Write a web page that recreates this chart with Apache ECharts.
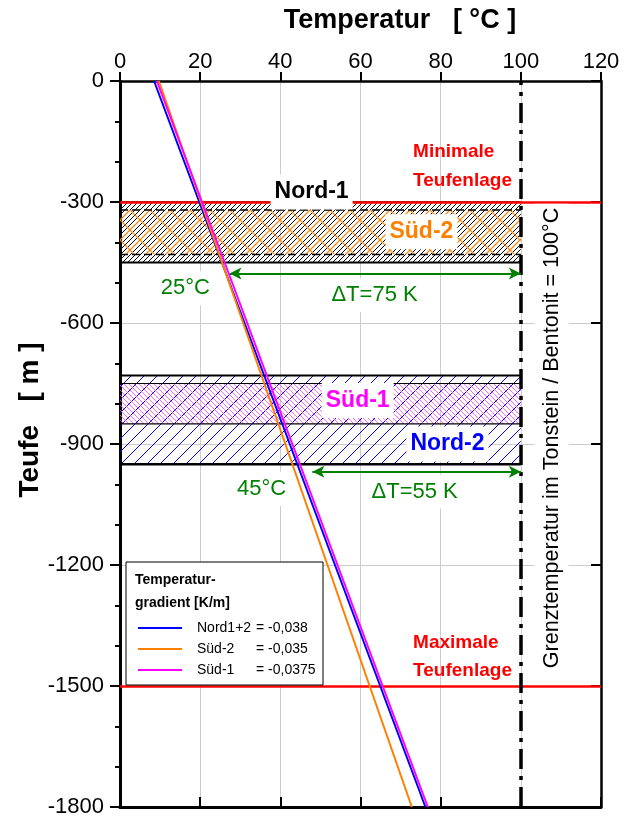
<!DOCTYPE html>
<html><head><meta charset="utf-8">
<script src="https://cdn.jsdelivr.net/npm/echarts@6/dist/echarts.min.js"></script>
<style>html,body{margin:0;padding:0;background:#fff}#c{width:626px;height:818px}</style>
</head><body><div id="c"></div>
<script>
// ---------- data ----------
const tempTicks = [0, 20, 40, 60, 80, 100, 120];
const depthTicks = [0, -300, -600, -900, -1200, -1500, -1800];
const gradientNames = ['Nord1+2', 'Süd-2', 'Süd-1'];
const gradientLabels = ['= -0,038', '= -0,035', '= -0,0375'];
const surfaceTemps = [8.5, 9.7, 9.2];      // °C at 0 m
const bottomTemps = [76.2, 72.8, 76.8];    // °C at -1800 m
const lineDepths = [0, -1800];
const bandNames = ['Nord-1', 'Süd-2', 'Nord-2', 'Süd-1'];
const bandTop = [-300, -320, -730, -750];
const bandBottom = [-450, -430, -950, -850];
const bandTempRange = [0, 100];
const limitDepths = [-300, -1500];
const limitTemp = 100;
const arrowDepths = [-477, -969];
const arrowStartTemps = [27.3, 48.0];
const arrowTempLabels = ['25°C', '45°C'];
const deltaLabels = ['\u0394T=75 K', '\u0394T=55 K'];

// ---------- styles ----------
const FONT = '"Liberation Sans", Arial, sans-serif';
const lineColors = ['#0000ff', '#ff8000', '#ff00ff'];
const GREEN = '#008000', RED = '#ff0000';

function hatch(size, color, lw, dirs) {
  const c = document.createElement('canvas');
  c.width = c.height = size;
  const g = c.getContext('2d');
  g.strokeStyle = color; g.lineWidth = lw;
  g.beginPath();
  for (let k = -1; k <= 1; k++) {
    if (dirs.indexOf('/') >= 0) { g.moveTo(k * size, size); g.lineTo(k * size + size, 0); }
    if (dirs.indexOf('\\') >= 0) { g.moveTo(k * size, 0); g.lineTo(k * size + size, size); }
  }
  g.stroke();
  return { image: c, repeat: 'repeat' };
}
const bandStyles = [
  { fill: hatch(5, '#000000', 1, '/'), edge: [{ w: 1.5, dash: null }, { w: 2, dash: null }] },
  { fill: hatch(20, '#ff8000', 1.2, '/\\'), edge: [{ w: 1.5, dash: [8, 4] }, { w: 1.5, dash: [8, 4] }] },
  { fill: hatch(13, '#0000ff', 1, '/'), edge: [{ w: 2, dash: null }, { w: 2.5, dash: null }] },
  { fill: hatch(5, '#ff40ff', 0.8, '\\'), edge: [{ w: 1.2, dash: null }, { w: 1.2, dash: null }] }
];

const bandData = bandNames.map((n, i) => [bandTop[i], bandBottom[i], i]);

const lineSeries = gradientNames.map((name, i) => ({
  name: name, type: 'line', z: 5, silent: true, symbol: 'none',
  lineStyle: { color: lineColors[i], width: 2 }, itemStyle: { color: lineColors[i] },
  data: [[surfaceTemps[i], lineDepths[0]], [bottomTemps[i], lineDepths[1]]]
}));

// annotations (data coords)
const annotations = [
  { text: bandNames[0], at: [47.8, -275], color: '#000', font: 23, bold: true },
  { text: bandNames[1], at: [75.2, -374], color: '#ff8000', font: 23, bold: true },
  { text: bandNames[3], at: [59.3, -792], color: '#ff00ff', font: 23, bold: true },
  { text: bandNames[2], at: [81.7, -900], color: '#0000ff', font: 23, bold: true },
  { text: arrowTempLabels[0], at: [16.3, -514], color: GREEN, font: 22 },
  { text: deltaLabels[0], at: [63.5, -531], color: GREEN, font: 22 },
  { text: arrowTempLabels[1], at: [35.3, -1011], color: GREEN, font: 22 },
  { text: deltaLabels[1], at: [73.5, -1018], color: GREEN, font: 22 },
  { text: 'Minimale', at: [73.0, -175], color: RED, font: 19, bold: true, left: true, nobg: true },
  { text: 'Teufenlage', at: [73.0, -248], color: RED, font: 19, bold: true, left: true, nobg: true },
  { text: 'Maximale', at: [73.0, -1394], color: RED, font: 19, bold: true, left: true, nobg: true },
  { text: 'Teufenlage', at: [73.0, -1461], color: RED, font: 19, bold: true, left: true, nobg: true },
  { text: 'Grenztemperatur im Tonstein / Bentonit = 100°C', at: [107.7, -885], color: '#000', font: 21.6, rotate: 90 }
];

const chart = echarts.init(document.getElementById('c'), null, { renderer: 'canvas' });
const option = {
  animation: false,
  textStyle: { fontFamily: FONT },
  grid: { left: 120, right: 25, top: 81, bottom: 5 },
  xAxis: [
    { type: 'value', position: 'top', min: tempTicks[0], max: tempTicks[tempTicks.length - 1], interval: 20,
      axisLine: { show: true, onZero: false, lineStyle: { color: '#000', width: 2.5 } },
      axisTick: { show: true, inside: false, length: 9, lineStyle: { color: '#000', width: 2 } },
      axisLabel: { fontSize: 22, color: '#000', margin: 8, fontFamily: FONT, formatter: v => String(v) },
      splitLine: { show: true, lineStyle: { color: '#cccccc', width: 1 } } },
    { type: 'value', position: 'bottom', min: tempTicks[0], max: tempTicks[tempTicks.length - 1], interval: 20,
      axisLine: { show: true, onZero: false, lineStyle: { color: '#000', width: 3 } },
      axisTick: { show: true, inside: true, length: 10, lineStyle: { color: '#000', width: 2 } },
      axisLabel: { show: false }, splitLine: { show: false } }
  ],
  yAxis: [
    { type: 'value', position: 'left', min: depthTicks[depthTicks.length - 1], max: depthTicks[0], interval: 300,
      axisLine: { show: true, onZero: false, lineStyle: { color: '#000', width: 3 } },
      axisTick: { show: true, inside: false, length: 10, lineStyle: { color: '#000', width: 2 } },
      minorTick: { show: true, splitNumber: 3, length: 5, lineStyle: { color: '#000', width: 2 } },
      axisLabel: { fontSize: 22, color: '#000', margin: 16, fontFamily: FONT, formatter: v => String(v) },
      splitLine: { show: true, lineStyle: { color: '#cccccc', width: 1 } } },
    { type: 'value', position: 'right', min: depthTicks[depthTicks.length - 1], max: depthTicks[0], interval: 300,
      axisLine: { show: true, onZero: false, lineStyle: { color: '#000', width: 2.5 } },
      axisTick: { show: true, inside: true, length: 10, lineStyle: { color: '#000', width: 2 } },
      axisLabel: { show: false }, splitLine: { show: false } }
  ],
  legend: {
    data: gradientNames, orient: 'vertical', left: 133, top: 616, itemWidth: 44, itemHeight: 2,
    icon: 'rect', itemGap: 7, selectedMode: false, z: 10,
    textStyle: { fontSize: 14, color: '#000', fontFamily: FONT,
      rich: { n: { fontSize: 14, width: 59, padding: [0, 0, 0, 10], fontFamily: FONT, lineHeight: 16 },
              v: { fontSize: 14, fontFamily: FONT, lineHeight: 16 } } },
    formatter: function (name) { return '{n|' + name + '}{v|' + gradientLabels[gradientNames.indexOf(name)] + '}'; }
  },
  graphic: [
    { type: 'text', x: 400, y: 21, z: 10, style: { text: 'Temperatur   [ °C ]', font: 'bold 27px ' + FONT, fill: '#000', align: 'center', verticalAlign: 'middle', textAlign: 'center', textVerticalAlign: 'middle' } },
    { type: 'text', x: 30, y: 420, rotation: Math.PI / 2, z: 10, style: { text: 'Teufe   [ m ]', font: 'bold 28px ' + FONT, fill: '#000', align: 'center', verticalAlign: 'middle', textAlign: 'center', textVerticalAlign: 'middle' } },
    { type: 'rect', z: 8, shape: { x: 126, y: 562, width: 197, height: 123 }, style: { fill: '#fff', stroke: '#000', lineWidth: 1 } },
    { type: 'text', x: 135, y: 580, z: 9, style: { text: 'Temperatur-', font: 'bold 14px ' + FONT, fill: '#000', verticalAlign: 'middle', textVerticalAlign: 'middle' } },
    { type: 'text', x: 135, y: 603, z: 9, style: { text: 'gradient [K/m]', font: 'bold 14px ' + FONT, fill: '#000', verticalAlign: 'middle', textVerticalAlign: 'middle' } }
  ],
  series: [
    { type: 'custom', name: 'bands', z: 2, silent: true, data: bandData,
      renderItem: function (params, api) {
        const i = api.value(2);
        const p1 = api.coord([bandTempRange[0], api.value(0)]);
        const p2 = api.coord([bandTempRange[1], api.value(1)]);
        const st = bandStyles[i];
        const ch = [{ type: 'rect', shape: { x: p1[0], y: p1[1], width: p2[0] - p1[0], height: p2[1] - p1[1] }, style: { fill: st.fill } }];
        [p1[1], p2[1]].forEach(function (y, k) {
          ch.push({ type: 'line', shape: { x1: p1[0], y1: y, x2: p2[0], y2: y },
            style: { stroke: '#000', lineWidth: st.edge[k].w, lineDash: st.edge[k].dash } });
        });
        return { type: 'group', children: ch };
      } }
  ].concat(lineSeries).concat([
    { type: 'line', name: 'limits', data: [], z: 4, silent: true,
      markLine: { silent: true, symbol: 'none', animation: false, label: { show: false },
        data: limitDepths.map(d => ({ yAxis: d, lineStyle: { color: RED, width: 2.5, type: 'solid' } }))
          .concat([{ xAxis: limitTemp, lineStyle: { color: '#000', width: 3.5, type: [20, 7, 4, 7] } }]) } },
    { type: 'line', name: 'arrows', data: [], z: 6, silent: true,
      markLine: { silent: true, symbol: ['arrow', 'arrow'], symbolSize: [9, 12], animation: false, label: { show: false },
        lineStyle: { color: GREEN, width: 2, type: 'solid' },
        data: arrowDepths.map((d, i) => [{ coord: [arrowStartTemps[i], d] }, { coord: [limitTemp, d] }]) } },
    { type: 'scatter', name: 'annot', z: 9, silent: true, symbolSize: 1, itemStyle: { color: 'rgba(0,0,0,0)', opacity: 1 },
      data: annotations.map(a => ({
        value: a.at,
        label: { show: true, formatter: a.text, position: a.left ? 'right' : 'inside', distance: 0, opacity: 1,
          rotate: a.rotate || 0, color: a.color, fontSize: a.font, fontWeight: a.bold ? 'bold' : 'normal',
          fontFamily: FONT, backgroundColor: a.nobg ? 'transparent' : '#fff', padding: a.nobg ? 0 : [6, 4] }
      })) }
  ])
};
chart.setOption(option);
</script></body></html>
